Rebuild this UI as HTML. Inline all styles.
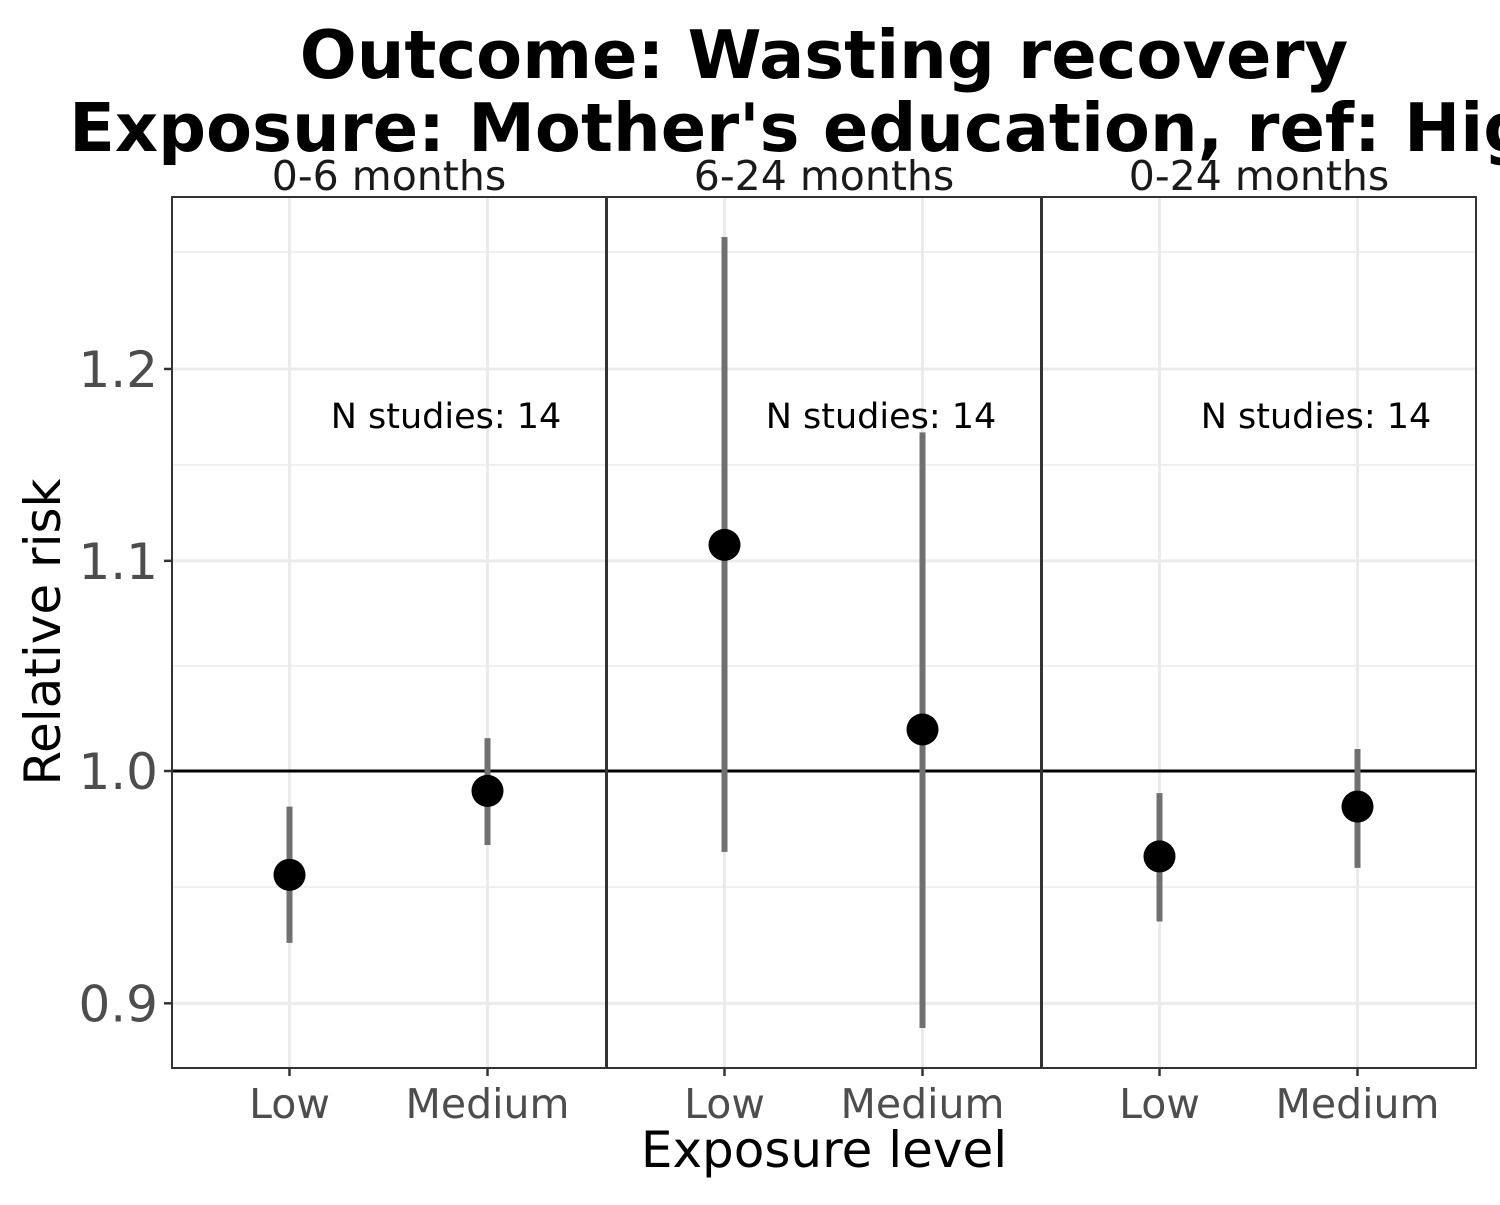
<!DOCTYPE html>
<html><head><meta charset="utf-8"><style>
html,body{margin:0;padding:0;background:#fff}
svg text{font-family:"DejaVu Sans","Liberation Sans",sans-serif}
</style></head><body>
<svg id="chart" width="1500" height="1200" viewBox="0 0 1500 1200" xmlns="http://www.w3.org/2000/svg">
<text x="824" y="78" text-anchor="middle" font-size="67" font-weight="bold">Outcome: Wasting recovery</text>
<text x="824" y="151" text-anchor="middle" font-size="67" font-weight="bold">Exposure: Mother's education, ref: High</text>
<g id="plot"></g>
<text transform="translate(60,632) rotate(-90)" text-anchor="middle" font-size="50">Relative risk</text>
<text x="824" y="1167" text-anchor="middle" font-size="50">Exposure level</text>
</svg>
<script>
const panels = ["0-6 months", "6-24 months", "0-24 months"];
const categories = ["Low", "Medium"];
const estimates = [[0.954, 0.991], [1.108, 1.019], [0.962, 0.984]];
const ciLower = [[0.925, 0.967], [0.964, 0.890], [0.934, 0.957]];
const ciUpper = [[0.984, 1.015], [1.274, 1.166], [0.990, 1.010]];
const yTicks = [0.9, 1.0, 1.1, 1.2];
const yTickLabels = ["0.9", "1.0", "1.1", "1.2"];
const nStudies = [14, 14, 14];

const NS = "http://www.w3.org/2000/svg";
const g = document.getElementById("plot");
const plotTop = 197, plotBottom = 1068, panelLefts = [172, 607, 1042], panelW = 434;
const y = v => 771 - 2205 * Math.log(v);
const x = (p, i) => panelLefts[p] + 117.5 + i * 198;
function mk(tag, attrs, parent) {
  const e = document.createElementNS(NS, tag);
  for (const k in attrs) e.setAttribute(k, attrs[k]);
  (parent || g).appendChild(e);
  return e;
}
const majorPx = yTicks.map(y);
const minorPx = [];
for (let i = 0; i < majorPx.length - 1; i++) minorPx.push((majorPx[i] + majorPx[i + 1]) / 2);
minorPx.push(252);
panels.forEach((name, p) => {
  const L = panelLefts[p];
  const pg = mk("g", {});
  
  
  mk("rect", {x: L, y: plotTop, width: panelW, height: plotBottom - plotTop, fill: "#fff"}, pg);
  minorPx.forEach(py => mk("line", {x1: L, x2: L + panelW, y1: py, y2: py, stroke: "#ebebeb", "stroke-width": 1.5}, pg));
  yTicks.forEach(t => mk("line", {x1: L, x2: L + panelW, y1: y(t), y2: y(t), stroke: "#ebebeb", "stroke-width": 3}, pg));
  categories.forEach((c, i) => mk("line", {x1: x(p, i), x2: x(p, i), y1: plotTop, y2: plotBottom, stroke: "#ebebeb", "stroke-width": 3}, pg));
  const ref = mk("line", {x1: L, x2: L + panelW, y1: y(1), y2: y(1), stroke: "#000", "stroke-width": 3}, pg);
  
  
  categories.forEach((c, i) => {
    const ci = mk("line", {x1: x(p, i), x2: x(p, i), y1: y(ciLower[p][i]), y2: y(ciUpper[p][i]), stroke: "#707070", "stroke-width": 6}, pg);
    
    
    const pt = mk("circle", {cx: x(p, i), cy: y(estimates[p][i]), r: 16, fill: "#000"}, pg);
    
    
    mk("line", {x1: x(p, i), x2: x(p, i), y1: plotBottom, y2: plotBottom + 8, stroke: "#333", "stroke-width": 2.5}, pg);
    const tl = mk("text", {x: x(p, i), y: 1118, "text-anchor": "middle", "font-size": 41, fill: "#4d4d4d"}, pg);
    tl.textContent = c;
    
    
  });
  const an = mk("text", {x: L + 274, y: 428, "text-anchor": "middle", "font-size": 35, fill: "#000"}, pg);
  an.textContent = "N studies: " + nStudies[p];
  
  
  const st = mk("text", {x: L + panelW / 2, y: 190, "text-anchor": "middle", "font-size": 41, fill: "#1a1a1a"}, pg);
  st.textContent = name;
  
  
  mk("rect", {x: L, y: plotTop, width: panelW, height: plotBottom - plotTop, fill: "none", stroke: "#333", "stroke-width": 2}, pg);
});
yTicks.forEach((t, i) => {
  mk("line", {x1: 164, x2: 172, y1: y(t), y2: y(t), stroke: "#333", "stroke-width": 2.5});
  const tl = mk("text", {x: 158, y: y(t) + 18, "text-anchor": "end", "font-size": 50, fill: "#4d4d4d"});
  tl.textContent = yTickLabels[i];
  
  
});
</script>
</body></html>
